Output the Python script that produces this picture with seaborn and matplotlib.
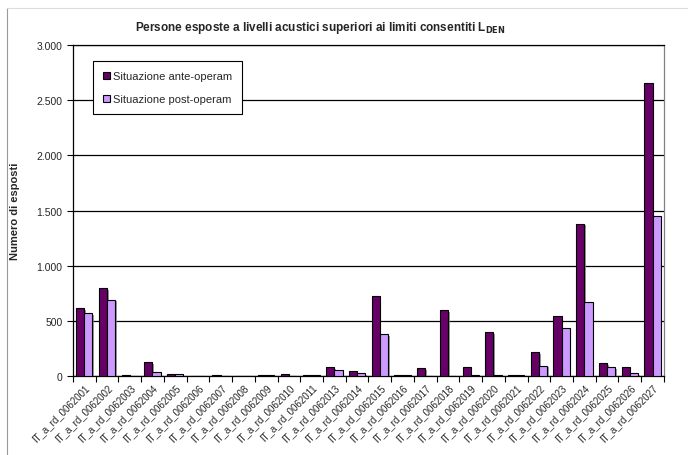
import numpy as np
import pandas as pd
import matplotlib
matplotlib.use("Agg")
import matplotlib.pyplot as plt
import matplotlib.patheffects as pe
from matplotlib.ticker import FuncFormatter, FixedLocator
import seaborn as sns

# -----------------------------
# Data
# -----------------------------
codes = ["001", "002", "003", "004", "005", "006", "007", "008", "009", "010",
         "011", "013", "014", "015", "016", "017", "018", "019", "020", "021",
         "022", "023", "024", "025", "026", "027"]
categories = ["IT_a_rd_0062" + c for c in codes]

ante_operam = [615, 795, 10, 124, 18, 0, 10, 0, 10, 15,
               10, 79, 42, 722, 10, 70, 595, 79, 396, 10,
               215, 547, 1380, 115, 79, 2655]
post_operam = [570, 692, 0, 33, 15, 0, 0, 0, 10, 0,
               10, 52, 24, 378, 10, 0, 0, 10, 10, 10,
               94, 432, 668, 79, 24, 1455]

series_names = ["Situazione ante-operam", "Situazione post-operam"]

df = pd.DataFrame({
    "cat": categories * 2,
    "val": ante_operam + post_operam,
    "serie": [series_names[0]] * len(categories) + [series_names[1]] * len(categories),
})

# -----------------------------
# Plot
# -----------------------------
sns.set_style("white")
plt.rcParams["font.family"] = ["Liberation Sans", "DejaVu Sans"]

fig = plt.figure(figsize=(6.88, 4.56), dpi=100)
ax = fig.add_axes([0.106, 0.173, 0.859, 0.726])

palette = {series_names[0]: "#660066", series_names[1]: "#CC99FF"}
sns.barplot(data=df, x="cat", y="val", hue="serie", palette=palette,
            width=0.72, edgecolor="black", linewidth=0.8, saturation=1,
            ax=ax, zorder=3)

for p in ax.patches:
    p.set_path_effects([pe.SimplePatchShadow(offset=(1.2, -1.2), shadow_rgbFace="#808080", alpha=0.8),
                        pe.Normal()])

ax.set_ylim(0, 3000)
ax.set_xlim(-0.5, len(categories) - 0.5)
ax.set_yticks(np.arange(0, 3001, 500))
ax.yaxis.set_major_formatter(FuncFormatter(lambda v, _: f"{int(v):,}".replace(",", ".")))
ax.tick_params(axis="y", labelsize=7.5, length=4, width=0.8, color="black", left=True, direction="out")
ax.grid(axis="y", color="black", linewidth=0.9, zorder=0)
ax.set_axisbelow(True)

# x ticks between categories, labels rotated
ax.set_xticks(range(len(categories)))
ax.set_xticklabels(categories, rotation=45, ha="right", rotation_mode="anchor", fontsize=7)
ax.tick_params(axis="x", which="major", length=0, pad=4)
ax.xaxis.set_minor_locator(FixedLocator(np.arange(-0.5, len(categories), 1)))
ax.tick_params(axis="x", which="minor", length=4, width=0.8, color="black", bottom=True, direction="out")

for side in ["left", "bottom", "top"]:
    ax.spines[side].set_color("black")
    ax.spines[side].set_linewidth(0.9)
ax.spines["right"].set_color("#808080")
ax.spines["right"].set_linewidth(0.9)

ax.set_xlabel("")
ax.set_ylabel("Numero di esposti", fontsize=8, fontweight="bold")
ax.yaxis.set_label_coords(-0.09, 0.5)
fig.text(0.465, 0.939,
         r"Persone esposte a livelli acustici superiori ai limiti consentiti L$_{\mathbf{DEN}}$",
         fontsize=8.5, fontweight="bold", ha="center", va="center")

leg = ax.legend(loc="upper left", bbox_to_anchor=(0.034, 0.952), borderaxespad=0,
                fontsize=8, frameon=True, fancybox=False, edgecolor="black", framealpha=1,
                handlelength=0.6, handleheight=0.6, handletextpad=0.3,
                labelspacing=1.2, borderpad=0.9, title=None)
leg.get_frame().set_linewidth(0.8)
for h in leg.legend_handles:
    h.set_path_effects([])

# outer chart frame (left and top edges visible)
fig.add_artist(plt.Line2D([0.01, 0.01], [0.0, 0.98], color="#999999", linewidth=0.8))
fig.add_artist(plt.Line2D([0.01, 1.0], [0.98, 0.98], color="#dddddd", linewidth=0.8))

fig.savefig("out.png", dpi=100)
